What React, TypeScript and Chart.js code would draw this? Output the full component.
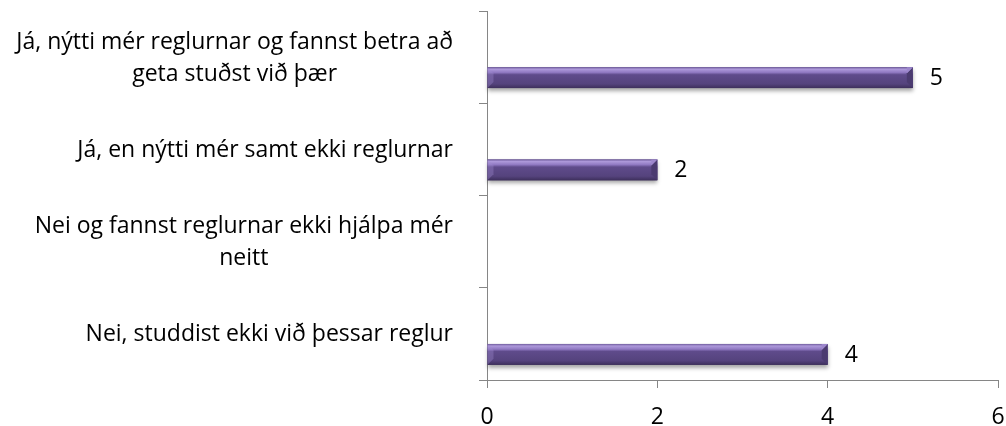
import React, { useEffect, useRef } from "react";
import { Chart, registerables } from "chart.js";

Chart.register(...registerables);

const categories: string[][] = [
  ["Já, nýtti mér reglurnar og fannst betra að", "geta stuðst við þær"],
  ["Já, en nýtti mér samt ekki reglurnar"],
  ["Nei og fannst reglurnar ekki hjálpa mér", "neitt"],
  ["Nei, studdist ekki við þessar reglur"],
];
const spacerSeries: (number | null)[] = [null, null, null, null];
const answerCounts: (number | null)[] = [5, 2, null, 4];
const xMin = 0;
const xMax = 6;
const xStep = 2;

const FONT = "'Open Sans', Lato, sans-serif";
const FONT_SIZE = 23;
const AXIS_COLOR = "#868686";

const labelPlugin = {
  id: "customLabels",
  afterDraw(chart: any) {
    const ctx = chart.ctx;
    const yScale = chart.scales.y;
    ctx.save();
    ctx.font = `${FONT_SIZE}px ${FONT}`;
    ctx.fillStyle = "#000";
    ctx.textAlign = "center";
    ctx.textBaseline = "middle";
    const rightEdge = 453;
    const lineH = 32;
    categories.forEach((lines, i) => {
      const cy = yScale.getPixelForTick(i);
      const blockW = Math.max(...lines.map((l) => ctx.measureText(l).width));
      const cx = rightEdge - blockW / 2;
      const y0 = cy - ((lines.length - 1) * lineH) / 2 + 1;
      lines.forEach((l, j) => ctx.fillText(l, cx, y0 + j * lineH));
    });
    ctx.restore();
  },
};

const barStylePlugin = {
  id: "barStyle",
  afterDatasetsDraw(chart: any) {
    const ctx = chart.ctx;
    const meta = chart.getDatasetMeta(1);
    ctx.save();
    meta.data.forEach((el: any, i: number) => {
      const v = answerCounts[i];
      if (v === null || v === undefined) return;
      const p = el.getProps(["x", "y", "base", "height"], true);
      const left = Math.min(p.base, p.x);
      const right = Math.max(p.base, p.x);
      const top = p.y - p.height / 2;
      const bottom = p.y + p.height / 2;
      const h = bottom - top;
      const g = ctx.createLinearGradient(0, top, 0, bottom);
      g.addColorStop(0, "#6f5b9c");
      g.addColorStop(0.1, "#ad98da");
      g.addColorStop(0.25, "#9079c2");
      g.addColorStop(0.36, "#5f4b8b");
      g.addColorStop(0.8, "#55437d");
      g.addColorStop(1, "#3d2f5b");
      ctx.shadowColor = "rgba(0,0,0,0.35)";
      ctx.shadowBlur = 4;
      ctx.shadowOffsetY = 3;
      ctx.fillStyle = g;
      ctx.fillRect(left, top, right - left, h);
      ctx.shadowColor = "transparent";
      ctx.shadowBlur = 0;
      ctx.shadowOffsetY = 0;
      const bev = Math.min(6, h / 3);
      ctx.beginPath();
      ctx.moveTo(right - bev, top + bev);
      ctx.lineTo(right, top);
      ctx.lineTo(right, bottom);
      ctx.lineTo(right - bev, bottom - bev);
      ctx.closePath();
      ctx.fillStyle = "#4b3b70";
      ctx.fill();
      ctx.beginPath();
      ctx.moveTo(right - bev, top + bev);
      ctx.lineTo(right, top);
      ctx.lineTo(right - bev, top);
      ctx.closePath();
      ctx.fillStyle = "#9d87cc";
      ctx.fill();
      ctx.beginPath();
      ctx.moveTo(left, top);
      ctx.lineTo(left + bev, top + bev);
      ctx.lineTo(left + bev, bottom - bev);
      ctx.lineTo(left, bottom);
      ctx.closePath();
      ctx.fillStyle = "rgba(160,140,210,0.35)";
      ctx.fill();
      ctx.font = `${FONT_SIZE}px ${FONT}`;
      ctx.fillStyle = "#000";
      ctx.textAlign = "left";
      ctx.textBaseline = "middle";
      ctx.fillText(String(v), right + 17, p.y + 1);
    });
    ctx.restore();
  },
};

export default function App() {
  const ref = useRef<HTMLCanvasElement | null>(null);
  useEffect(() => {
    if (!ref.current) return;
    const chart = new Chart(ref.current, {
      type: "bar",
      data: {
        labels: categories,
        datasets: [
          {
            label: "spacer",
            data: spacerSeries,
            backgroundColor: "rgba(0,0,0,0)",
          },
          {
            label: "Fjöldi",
            data: answerCounts,
            backgroundColor: "#5a4782",
            borderWidth: 0,
          },
        ],
      },
      options: {
        indexAxis: "y",
        responsive: false,
        animation: false,
        devicePixelRatio: 1,
        layout: { padding: { top: 11, right: 8, bottom: 0, left: 0 } },
        categoryPercentage: 0.89,
        barPercentage: 0.51,
        plugins: {
          legend: { display: false },
          tooltip: { enabled: false },
        },
        scales: {
          x: {
            type: "linear",
            min: xMin,
            max: xMax,
            ticks: {
              stepSize: xStep,
              color: "#000",
              font: { family: FONT, size: FONT_SIZE },
              padding: 16,
            },
            grid: {
              drawOnChartArea: false,
              drawTicks: true,
              tickLength: 8,
              color: AXIS_COLOR,
            },
            border: { display: true, color: AXIS_COLOR, width: 1 },
            afterFit: (s: any) => {
              s.height = 46;
              s.paddingLeft = 0;
              s.paddingRight = 0;
            },
          },
          y: {
            type: "category",
            ticks: { display: false },
            grid: {
              offset: true,
              drawOnChartArea: false,
              drawTicks: true,
              tickLength: 8,
              color: AXIS_COLOR,
            },
            border: { display: true, color: AXIS_COLOR, width: 1 },
            afterFit: (s: any) => {
              s.width = 487;
              s.paddingTop = 0;
              s.paddingBottom = 0;
            },
          },
        },
      } as any,
      plugins: [barStylePlugin, labelPlugin],
    });
    return () => chart.destroy();
  }, []);
  return (
    <div style={{ position: "fixed", left: 0, top: 0, width: 1006, height: 426, background: "#fff" }}>
      <canvas ref={ref} width={1006} height={426} style={{ display: "block" }} />
    </div>
  );
}
